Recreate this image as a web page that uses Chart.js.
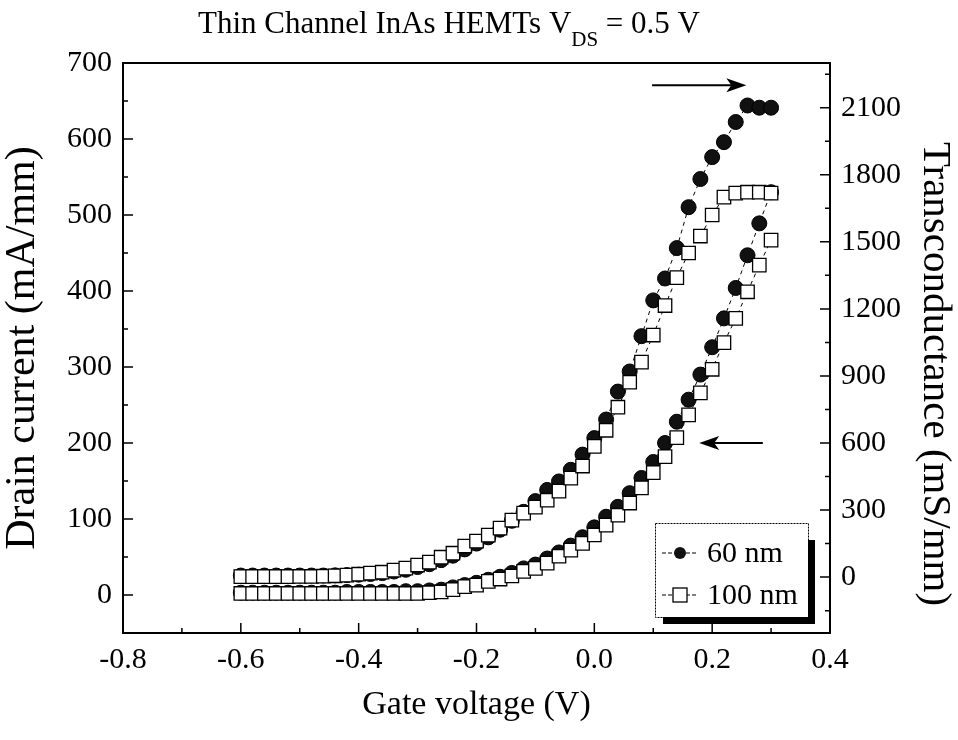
<!DOCTYPE html>
<html>
<head>
<meta charset="utf-8">
<script src="https://cdn.jsdelivr.net/npm/chart.js@4.4.1/dist/chart.umd.min.js"></script>
<style>
  html, body { margin: 0; padding: 0; background: #fff; }
  #wrap { width: 958px; height: 740px; position: relative; }
</style>
</head>
<body>
<div id="wrap"><canvas id="chart"></canvas></div>
<script>
// gate voltage sweep (V)
const gateV = [-0.60, -0.58, -0.56, -0.54, -0.52, -0.50, -0.48, -0.46, -0.44, -0.42,
  -0.40, -0.38, -0.36, -0.34, -0.32, -0.30, -0.28, -0.26, -0.24, -0.22,
  -0.20, -0.18, -0.16, -0.14, -0.12, -0.10, -0.08, -0.06, -0.04, -0.02,
  0.00, 0.02, 0.04, 0.06, 0.08, 0.10, 0.12, 0.14, 0.16, 0.18,
  0.20, 0.22, 0.24, 0.26, 0.28, 0.30];

// drain current (mA/mm), left axis
const id60 = [3, 3, 3, 3, 3, 3, 3, 3, 3, 4,
  4, 4, 4, 4, 5, 5, 6, 7, 10, 13,
  16, 20, 24, 29, 35, 40, 48, 56, 65, 76,
  89, 103, 116, 134, 154, 175, 200, 228, 257, 290,
  326, 364, 404, 447, 489, 530];
const id100 = [2, 2, 2, 2, 2, 2, 2, 2, 2, 2,
  2, 2, 2, 2, 2, 2, 3, 4, 7, 11,
  13, 18, 21, 25, 31, 35, 42, 51, 59, 68,
  79, 92, 105, 121, 141, 161, 182, 207, 237, 266,
  297, 332, 364, 399, 434, 467];

// transconductance (mS/mm), right axis
const gm60 = [7, 7, 7, 7, 7, 7, 7, 7, 8, 9,
  11, 14, 18, 25, 33, 45, 58, 76, 96, 124,
  150, 178, 212, 252, 292, 340, 390, 428, 480, 548,
  622, 705, 830, 920, 1078, 1238, 1336, 1472, 1655, 1781,
  1879, 1946, 2036, 2110, 2100, 2100];
const gm100 = [2, 2, 2, 2, 2, 3, 3, 4, 6, 9,
  13, 18, 22, 31, 40, 54, 67, 89, 107, 139,
  161, 188, 219, 255, 286, 313, 344, 385, 443, 497,
  585, 657, 760, 872, 962, 1083, 1215, 1340, 1450, 1526,
  1620, 1700, 1718, 1722, 1722, 1718];

const xTicks = [-0.8, -0.6, -0.4, -0.2, 0.0, 0.2, 0.4];
const leftTicks = [0, 100, 200, 300, 400, 500, 600, 700];
const rightTicks = [0, 300, 600, 900, 1200, 1500, 1800, 2100];
const seriesNames = ['60 nm', '100 nm'];

const SERIF = '"Liberation Serif", "DejaVu Serif", serif';

const toPoints = ys => gateV.map((x, i) => ({ x: x, y: ys[i] }));

const circleStyle = {
  pointStyle: 'circle', pointRadius: 7.5, pointHoverRadius: 7.5,
  pointBackgroundColor: '#111', pointBorderColor: '#000', pointBorderWidth: 1,
  borderColor: '#000', borderWidth: 1, borderDash: [4, 4], showLine: true
};
const squareStyle = {
  pointStyle: 'rect', pointRadius: 9.5, pointHoverRadius: 9.5,
  pointBackgroundColor: '#fff', pointBorderColor: '#000', pointBorderWidth: 1.3,
  borderColor: '#000', borderWidth: 1, borderDash: [4, 4], showLine: true
};

// squares first so they are drawn on top of the circles
const datasets = [
  Object.assign({ label: '100 nm Id', data: toPoints(id100), yAxisID: 'y' }, squareStyle),
  Object.assign({ label: '100 nm gm', data: toPoints(gm100), yAxisID: 'y2' }, squareStyle),
  Object.assign({ label: '60 nm Id', data: toPoints(id60), yAxisID: 'y' }, circleStyle),
  Object.assign({ label: '60 nm gm', data: toPoints(gm60), yAxisID: 'y2' }, circleStyle)
];

function arrow(ctx, x1, y1, x2, y2) {
  const dir = Math.sign(x2 - x1);
  ctx.save();
  ctx.strokeStyle = '#000';
  ctx.fillStyle = '#000';
  ctx.lineWidth = 2;
  ctx.beginPath();
  ctx.moveTo(x1, y1);
  ctx.lineTo(x2 - dir * 14, y2);
  ctx.stroke();
  ctx.beginPath();
  ctx.moveTo(x2, y2);
  ctx.lineTo(x2 - dir * 20, y2 - 7);
  ctx.lineTo(x2 - dir * 15, y2);
  ctx.lineTo(x2 - dir * 20, y2 + 7);
  ctx.closePath();
  ctx.fill();
  ctx.restore();
}

const decor = {
  id: 'decor',
  afterDraw(chart) {
    const { ctx, chartArea: a, scales } = chart;
    ctx.save();

    // frame
    ctx.strokeStyle = '#000';
    ctx.lineWidth = 2;
    ctx.strokeRect(a.left, a.top, a.right - a.left, a.bottom - a.top);

    // inward ticks
    ctx.lineWidth = 1.5;
    ctx.beginPath();
    for (let v = -0.8; v <= 0.4001; v += 0.1) {
      const major = xTicks.some(t => Math.abs(t - v) < 1e-6);
      const px = scales.x.getPixelForValue(v);
      ctx.moveTo(px, a.bottom);
      ctx.lineTo(px, a.bottom - (major ? 10 : 5));
    }
    for (let v = -50; v <= 700; v += 50) {
      const major = leftTicks.includes(v);
      const py = scales.y.getPixelForValue(v);
      ctx.moveTo(a.left, py);
      ctx.lineTo(a.left + (major ? 10 : 5), py);
    }
    for (let v = -150; v <= 2300; v += 150) {
      const major = rightTicks.includes(v);
      const py = scales.y2.getPixelForValue(v);
      ctx.moveTo(a.right, py);
      ctx.lineTo(a.right - (major ? 10 : 5), py);
    }
    ctx.stroke();

    // arrows: gm curves -> right axis, Id curves -> left axis
    arrow(ctx, scales.x.getPixelForValue(0.098), scales.y2.getPixelForValue(2200),
      scales.x.getPixelForValue(0.258), scales.y2.getPixelForValue(2200));
    arrow(ctx, scales.x.getPixelForValue(0.286), scales.y.getPixelForValue(200),
      scales.x.getPixelForValue(0.178), scales.y.getPixelForValue(200));

    // title with subscript
    const t1 = 'Thin Channel InAs HEMTs V', t2 = 'DS', t3 = ' = 0.5 V';
    ctx.fillStyle = '#000';
    ctx.textBaseline = 'alphabetic';
    ctx.textAlign = 'left';
    ctx.font = '31px ' + SERIF;
    const w1 = ctx.measureText(t1).width, w3 = ctx.measureText(t3).width;
    ctx.font = '21px ' + SERIF;
    const w2 = ctx.measureText(t2).width;
    let tx = 449 - (w1 + w2 + w3) / 2;
    ctx.font = '31px ' + SERIF;
    ctx.fillText(t1, tx, 33);
    ctx.font = '21px ' + SERIF;
    ctx.fillText(t2, tx + w1, 46);
    ctx.font = '31px ' + SERIF;
    ctx.fillText(t3, tx + w1 + w2, 33);

    // right axis title
    ctx.save();
    ctx.translate(935, 374);
    ctx.rotate(Math.PI / 2);
    ctx.textAlign = 'center';
    ctx.textBaseline = 'middle';
    ctx.font = '41px ' + SERIF;
    ctx.fillText('Transconductance (mS/mm)', 0, 0);
    ctx.restore();

    // legend box with shadow
    const bx = a.right - 175, by = a.bottom - 110, bw = 153, bh = 94;
    ctx.fillStyle = '#000';
    ctx.fillRect(bx + bw, by + 17, 7, bh - 10);
    ctx.fillRect(bx + 8, by + bh, bw - 1, 7);
    ctx.fillStyle = '#fff';
    ctx.fillRect(bx, by, bw, bh);
    ctx.strokeStyle = '#000';
    ctx.lineWidth = 1;
    ctx.setLineDash([2, 1]);
    ctx.strokeRect(bx + 0.5, by + 0.5, bw, bh);

    const rows = [by + 30, by + 72];
    rows.forEach((ry, i) => {
      ctx.setLineDash([4, 2]);
      ctx.beginPath();
      ctx.moveTo(bx + 7, ry);
      ctx.lineTo(bx + 43, ry);
      ctx.stroke();
      ctx.setLineDash([]);
      const mx = bx + 25;
      if (i === 0) {
        ctx.fillStyle = '#111';
        ctx.beginPath();
        ctx.arc(mx, ry, 6, 0, Math.PI * 2);
        ctx.fill();
      } else {
        ctx.fillStyle = '#fff';
        ctx.fillRect(mx - 7, ry - 7, 14, 14);
        ctx.lineWidth = 1.3;
        ctx.strokeRect(mx - 7, ry - 7, 14, 14);
        ctx.lineWidth = 1;
      }
      ctx.fillStyle = '#000';
      ctx.font = '30px ' + SERIF;
      ctx.textAlign = 'left';
      ctx.textBaseline = 'middle';
      ctx.fillText(seriesNames[i], bx + 52, ry + 1);
    });

    ctx.restore();
  }
};

const tickFont = { family: SERIF, size: 30 };

new Chart(document.getElementById('chart'), {
  type: 'line',
  data: { datasets: datasets },
  options: {
    responsive: true,
    maintainAspectRatio: false,
    animation: false,
    layout: { padding: { top: 63, left: 0, right: 0, bottom: 0 } },
    plugins: {
      legend: { display: false },
      tooltip: { enabled: false },
      title: { display: false }
    },
    scales: {
      x: {
        type: 'linear',
        min: -0.8,
        max: 0.4,
        afterBuildTicks: s => { s.ticks = xTicks.map(v => ({ value: v })); },
        afterFit: s => { s.height = 107; },
        grid: { display: false, drawTicks: false },
        border: { display: false },
        ticks: {
          font: tickFont, color: '#000', padding: 9, maxRotation: 0,
          callback: v => v.toFixed(1)
        },
        title: {
          display: true, text: 'Gate voltage (V)', color: '#000',
          font: { family: SERIF, size: 34, lineHeight: 1 },
          padding: { top: 0, bottom: 18 }
        }
      },
      y: {
        type: 'linear',
        position: 'left',
        min: -50,
        max: 700,
        afterBuildTicks: s => { s.ticks = leftTicks.map(v => ({ value: v })); },
        afterFit: s => { s.width = 123; },
        grid: { display: false, drawTicks: false },
        border: { display: false },
        ticks: { font: tickFont, color: '#000', padding: 11, callback: v => String(v) },
        title: {
          display: true, text: 'Drain current (mA/mm)', color: '#000',
          font: { family: SERIF, size: 42, lineHeight: 1 },
          padding: { top: 2, bottom: 0 }
        }
      },
      y2: {
        type: 'linear',
        position: 'right',
        min: -250,
        max: 2300,
        afterBuildTicks: s => { s.ticks = rightTicks.map(v => ({ value: v })); },
        afterFit: s => { s.width = 128; },
        grid: { display: false, drawTicks: false },
        border: { display: false },
        ticks: { font: tickFont, color: '#000', padding: 11, callback: v => String(v) }
      }
    }
  },
  plugins: [decor]
});
</script>
</body>
</html>
